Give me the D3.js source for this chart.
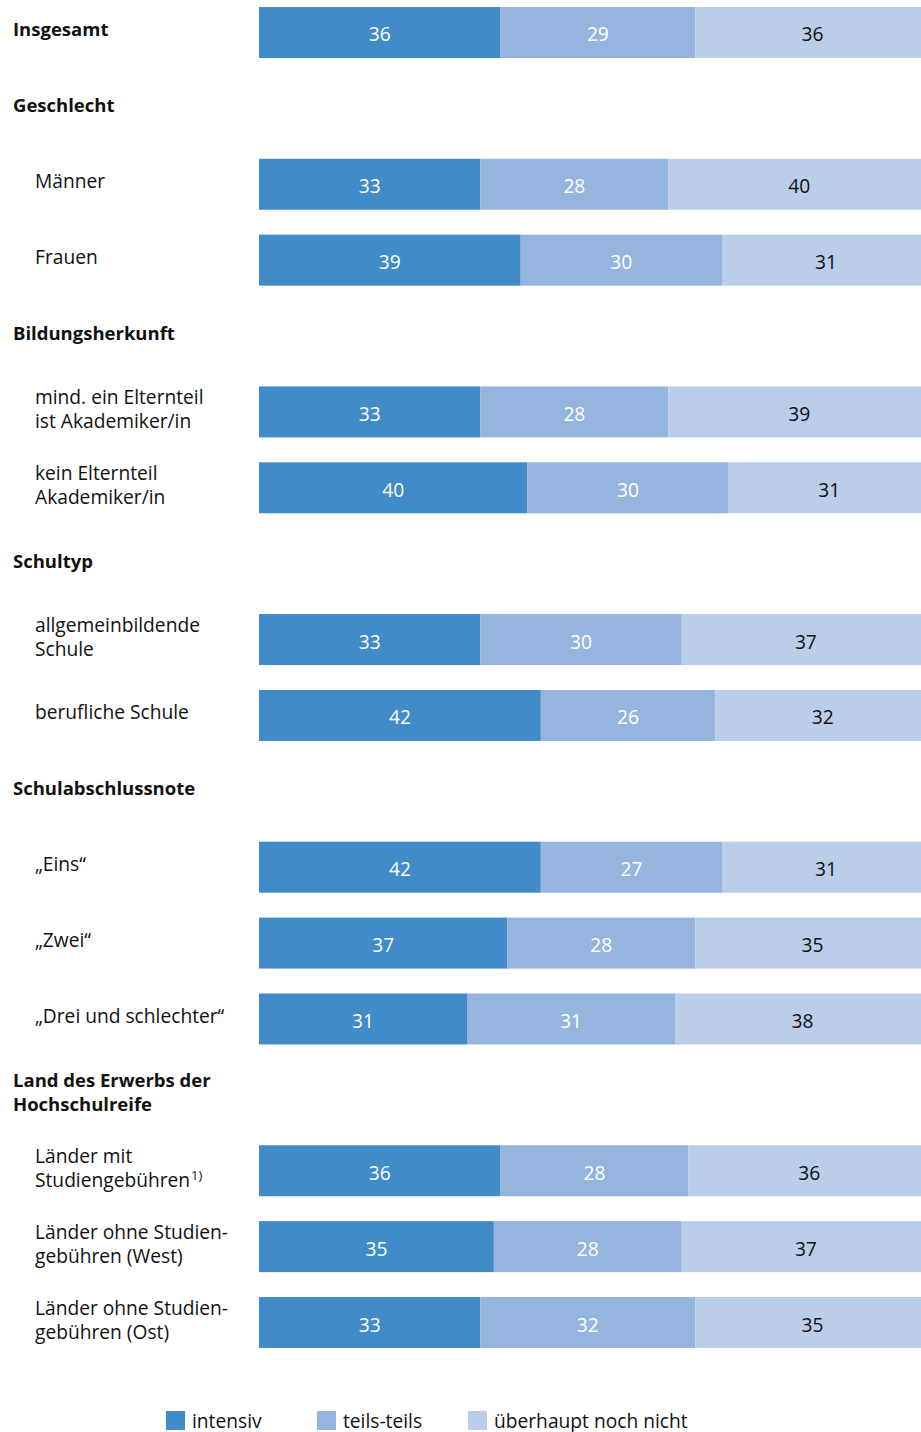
<!DOCTYPE html>
<html><head><meta charset="utf-8">
<script src="https://cdn.jsdelivr.net/npm/d3@7"></script>
<style>
html,body{margin:0;padding:0;background:#fff;}
svg{display:block;font-family:"Open Sans","Noto Sans",sans-serif;}
</style></head>
<body>
<svg id="chart" width="921" height="1432"></svg>
<script>
// ---- data ----
const rowLabels = [
  ["Insgesamt"],
  ["Geschlecht"],
  ["Männer"],
  ["Frauen"],
  ["Bildungsherkunft"],
  ["mind. ein Elternteil", "ist Akademiker/in"],
  ["kein Elternteil", "Akademiker/in"],
  ["Schultyp"],
  ["allgemeinbildende", "Schule"],
  ["berufliche Schule"],
  ["Schulabschlussnote"],
  ["„Eins“"],
  ["„Zwei“"],
  ["„Drei und schlechter“"],
  ["Land des Erwerbs der", "Hochschulreife"],
  ["Länder mit", "Studiengebühren"],
  ["Länder ohne Studien-", "gebühren (West)"],
  ["Länder ohne Studien-", "gebühren (Ost)"]
];
const rowIsHeader = [true, true, false, false, true, false, false, true, false, false, true, false, false, false, true, false, false, false];
const footnotes   = [null, null, null, null, null, null, null, null, null, null, null, null, null, null, null, "1)", null, null];
const intensiv    = [36, null, 33, 39, null, 33, 40, null, 33, 42, null, 42, 37, 31, null, 36, 35, 33];
const teilsTeils  = [29, null, 28, 30, null, 28, 30, null, 30, 26, null, 27, 28, 31, null, 28, 28, 32];
const nochNicht   = [36, null, 40, 31, null, 39, 31, null, 37, 32, null, 31, 35, 38, null, 36, 37, 35];
const seriesNames = ["intensiv", "teils-teils", "überhaupt noch nicht"];
const seriesColors = ["#428bc9", "#95b5de", "#bacde9"];
const labelColors = ["#ffffff", "#ffffff", "#111111"];

// ---- layout ----
const svg = d3.select("#chart");
const FS = 19.2, FSB = 18.5;
const x = d3.scaleLinear().domain([0, 100]).range([259, 930]);
const y = d3.scaleBand().domain(d3.range(rowLabels.length)).range([7, 1348])
  .paddingInner(0.328).paddingOuter(0);

const seriesVals = [intensiv, teilsTeils, nochNicht];

// category labels
rowLabels.forEach((lines, i) => {
  const cy = y(i) + y.bandwidth() / 2 - 3;
  const lh = 24;
  const n = lines.length;
  const t = svg.append("text")
    .attr("x", rowIsHeader[i] ? 13 : 35)
    .attr("font-size", rowIsHeader[i] ? FSB : FS)
    .attr("font-weight", rowIsHeader[i] ? "bold" : "normal")
    .attr("fill", "#111");
  lines.forEach((ln, k) => {
    t.append("tspan")
      .attr("x", rowIsHeader[i] ? 13 : 35)
      .attr("y", cy + (k - (n - 1) / 2) * lh + 7)
      .text(ln);
    if (k === n - 1 && footnotes[i]) {
      t.append("tspan").attr("font-size", 13).attr("dy", -7).attr("dx", 1).text(footnotes[i]);
    }
  });
});

// bars
rowLabels.forEach((_, i) => {
  if (intensiv[i] == null) return;
  let cum = 0;
  seriesVals.forEach((arr, s) => {
    const v = arr[i];
    const x0 = x(cum);
    const x1 = x(Math.min(cum + v, 100));
    cum += v;
    svg.append("rect")
      .attr("x", x0).attr("y", y(i))
      .attr("width", Math.max(0, x1 - x0)).attr("height", y.bandwidth())
      .attr("fill", seriesColors[s]);
    svg.append("text")
      .attr("x", (x0 + x1) / 2)
      .attr("y", y(i) + y.bandwidth() / 2 + 9)
      .attr("text-anchor", "middle")
      .attr("font-size", FS)
      .attr("fill", labelColors[s])
      .text(v);
  });
});

// legend
const legendX = [166, 317, 468];
seriesNames.forEach((name, s) => {
  svg.append("rect").attr("x", legendX[s]).attr("y", 1411).attr("width", 19).attr("height", 19)
    .attr("fill", seriesColors[s]);
  svg.append("text").attr("x", legendX[s] + 26).attr("y", 1428)
    .attr("font-size", FS).attr("fill", "#111").text(name);
});
</script>
</body></html>
